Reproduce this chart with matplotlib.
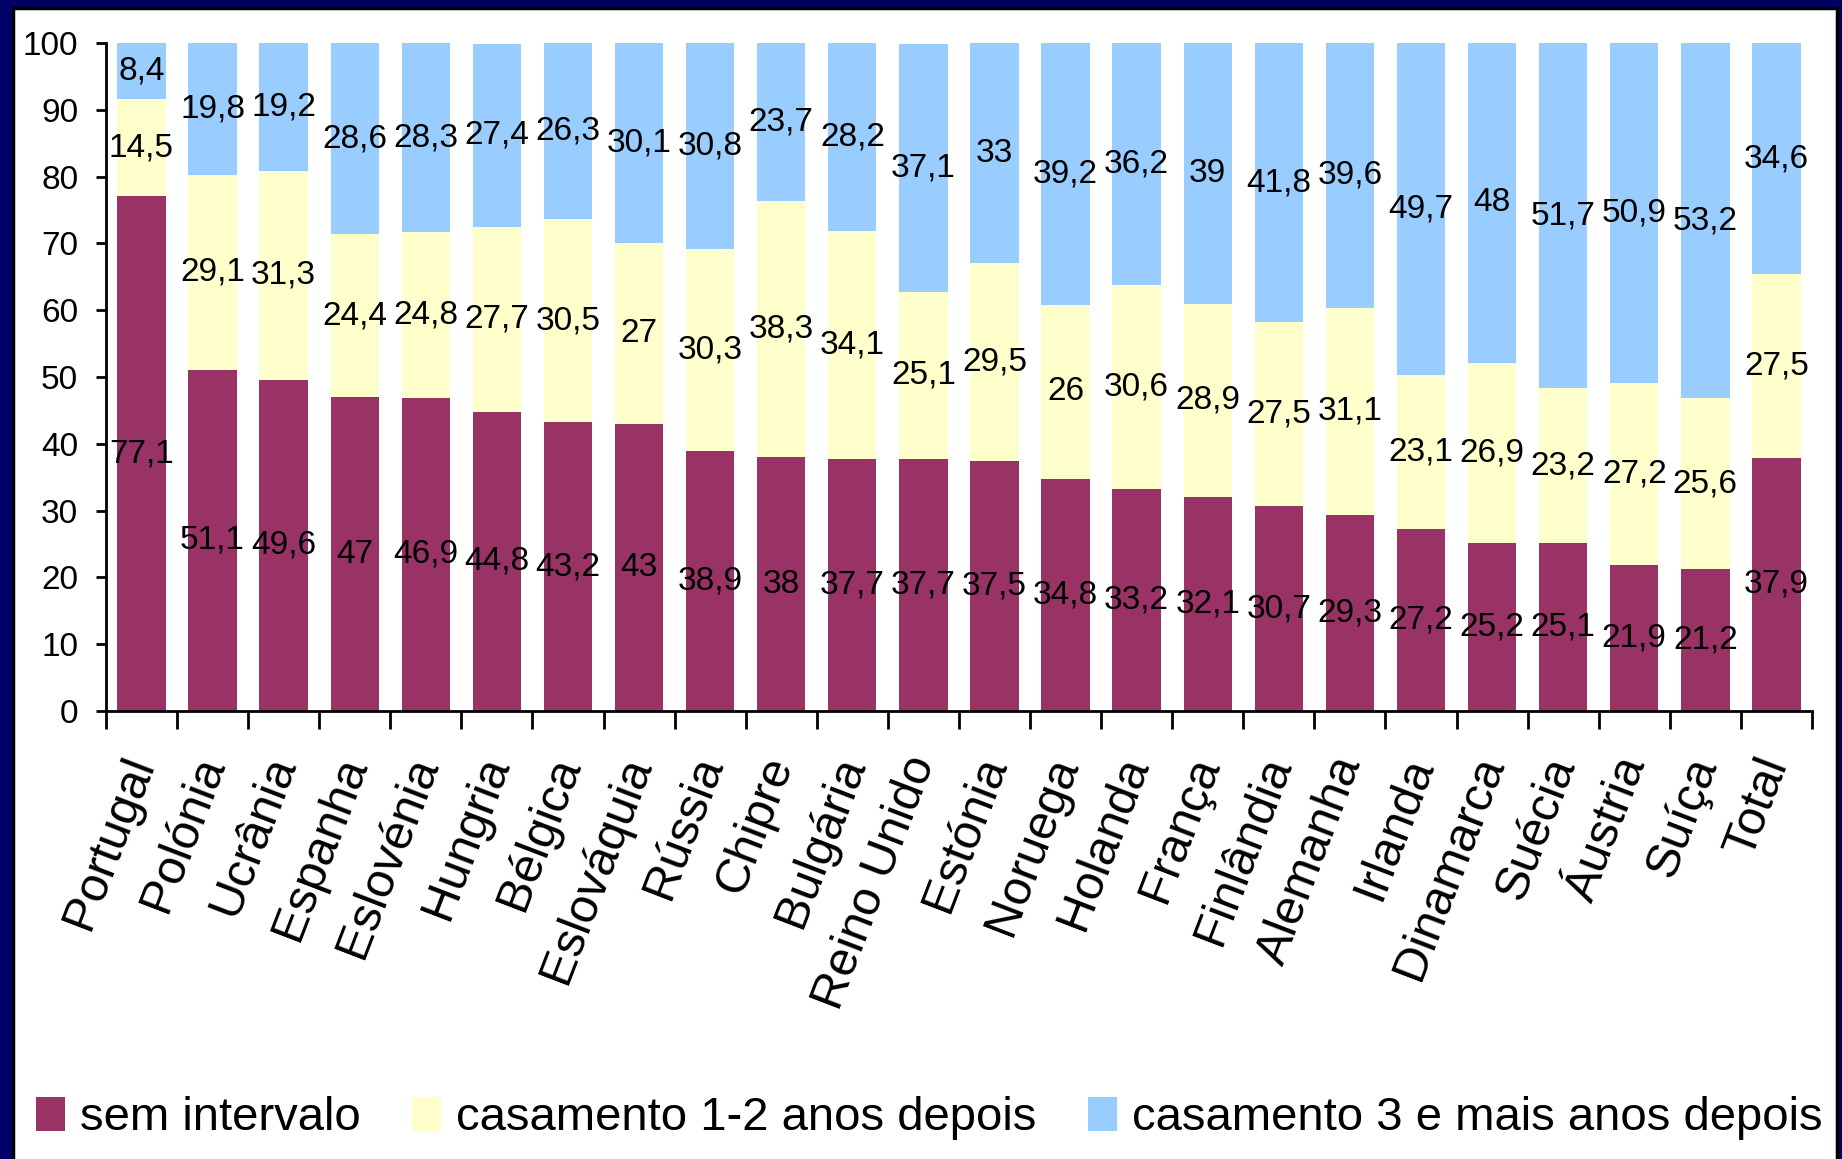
import matplotlib
matplotlib.use("Agg")
import matplotlib.pyplot as plt
from matplotlib import font_manager
from matplotlib.patches import Rectangle
import numpy as np

# data (percent)
countries = ["Portugal", "Polónia", "Ucrânia", "Espanha", "Eslovénia", "Hungria",
             "Bélgica", "Eslováquia", "Rússia", "Chipre", "Bulgária", "Reino Unido",
             "Estónia", "Noruega", "Holanda", "França", "Finlândia", "Alemanha",
             "Irlanda", "Dinamarca", "Suécia", "Áustria", "Suíça", "Total"]
sem_intervalo = [77.1, 51.1, 49.6, 47, 46.9, 44.8, 43.2, 43, 38.9, 38, 37.7, 37.7,
                 37.5, 34.8, 33.2, 32.1, 30.7, 29.3, 27.2, 25.2, 25.1, 21.9, 21.2, 37.9]
casamento_1_2 = [14.5, 29.1, 31.3, 24.4, 24.8, 27.7, 30.5, 27, 30.3, 38.3, 34.1, 25.1,
                 29.5, 26, 30.6, 28.9, 27.5, 31.1, 23.1, 26.9, 23.2, 27.2, 25.6, 27.5]
casamento_3 = [8.4, 19.8, 19.2, 28.6, 28.3, 27.4, 26.3, 30.1, 30.8, 23.7, 28.2, 37.1,
               33, 39.2, 36.2, 39, 41.8, 39.6, 49.7, 48, 51.7, 50.9, 53.2, 34.6]
series_names = ["sem intervalo", "casamento 1-2 anos depois",
                "casamento 3 e mais anos depois"]
colors = ["#993366", "#FFFFCC", "#99CCFF"]

# pick a narrow font if there is one
available = {f.name for f in font_manager.fontManager.ttflist}
if "Liberation Sans Narrow" in available:
    num_font, num_size, leg_size = "Liberation Sans Narrow", 26, 39
else:
    num_font, num_size, leg_size = "Liberation Sans", 24, 34
lab_font, lab_size = "Liberation Sans", 35

fig = plt.figure(figsize=(18.42, 11.59), dpi=100, facecolor="#000066")
fig.add_artist(Rectangle((13 / 1842, -0.01), 1824 / 1842, 1.01 - 8 / 1159,
                         transform=fig.transFigure, facecolor="white",
                         edgecolor="black", linewidth=2.5, zorder=-10))

ax = fig.add_axes([0.0575, 0.3865, 0.9262, 0.5764])
x = np.arange(len(countries))
width = 0.68

bottom = np.zeros(len(countries))
for vals, name, col in zip([sem_intervalo, casamento_1_2, casamento_3], series_names, colors):
    vals = np.array(vals, dtype=float)
    bars = ax.bar(x, vals, width, bottom=bottom, color=col, label=name, linewidth=0)
    labels = [f"{v:g}".replace(".", ",") for v in vals]
    ax.bar_label(bars, labels=labels, label_type="center", fontsize=num_size,
                 family=num_font, color="black")
    bottom += vals

ax.set_xlim(-0.5, len(countries) - 0.5)
ax.set_ylim(0, 100)
ax.set_yticks(np.arange(0, 101, 10))
ax.tick_params(axis="y", direction="out", length=7, width=2, pad=13,
               labelsize=num_size)
for t in ax.get_yticklabels():
    t.set_family(num_font)

# ticks between categories, labels at the centre
ax.set_xticks(np.arange(-0.5, len(countries), 1.0))
ax.set_xticklabels([])
ax.set_xticks(x, minor=True)
ax.set_xticklabels(countries, minor=True, rotation=69, ha="right", va="center",
                   rotation_mode="anchor", fontsize=lab_size, family=lab_font)
ax.tick_params(axis="x", which="major", direction="out", length=13, width=2)
ax.tick_params(axis="x", which="minor", length=0, pad=34)

for s in ["top", "right"]:
    ax.spines[s].set_visible(False)
for s in ["left", "bottom"]:
    ax.spines[s].set_linewidth(2)

fig.legend(loc="center", bbox_to_anchor=(0.5045, 0.035), ncol=3, frameon=False,
           prop={"family": num_font, "size": leg_size}, handlelength=0.62,
           handleheight=0.75, handletextpad=0.32, columnspacing=1.08,
           borderpad=0, borderaxespad=0)

fig.savefig("out.png", dpi=100, facecolor=fig.get_facecolor())
